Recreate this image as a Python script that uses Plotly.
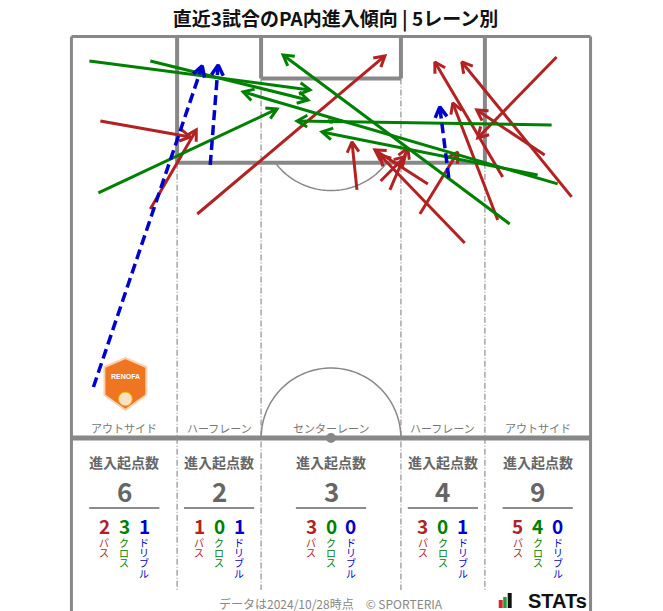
import numpy as np
import plotly.graph_objects as go

# ---------------- data ----------------
lane_names = ["アウトサイド", "ハーフレーン", "センターレーン", "ハーフレーン", "アウトサイド"]
lane_edges = [0.0, 13.84, 24.84, 43.16, 54.16, 68.0]
lane_totals = [6, 2, 3, 4, 9]
lane_pass = [2, 1, 3, 3, 5]
lane_cross = [3, 0, 0, 0, 4]
lane_dribble = [1, 1, 0, 1, 0]
type_labels = ["パス", "クロス", "ドリブル"]

# arrows (metres: x across pitch, y = distance from halfway line)
pass_x0 = [3.79, 10.33, 16.48, 37.40, 41.72, 40.5, 46.69, 45.64, 51.52, 56.49, 65.52, 55.84, 61.99, 63.55]
pass_y0 = [41.45, 29.95, 29.29, 32.43, 32.43, 33.6, 33.22, 29.29, 25.50, 34.13, 31.52, 28.51, 37.01, 49.82]
pass_x1 = [15.56, 16.35, 41.06, 36.75, 44.07, 43.7, 39.75, 50.61, 40.41, 47.60, 51.13, 49.95, 53.09, 53.22]
pass_y1 = [39.36, 40.28, 49.95, 38.71, 37.92, 36.8, 37.66, 37.40, 37.01, 49.17, 49.17, 43.81, 42.89, 39.23]

cross_x0 = [2.35, 10.33, 3.53, 62.90, 61.07, 63.69, 57.41]
cross_y0 = [49.30, 49.30, 32.04, 40.93, 34.39, 33.22, 27.98]
cross_x1 = [31.25, 30.99, 26.94, 29.55, 32.82, 22.49, 27.72]
cross_y1 = [45.51, 44.20, 43.02, 41.45, 40.02, 45.25, 50.08]

drib_x0 = [2.88, 18.18, 49.43]
drib_y0 = [6.67, 35.70, 34.00]
drib_x1 = [17.13, 19.22, 48.25]
drib_y1 = [48.65, 48.78, 43.29]

# ---------------- geometry / styling ----------------
WIN_W, WIN_H = 663, 611
OFF = 8                      # default page margin of the html body
W, H = WIN_W - OFF, WIN_H - OFF
S = 7.647            # px per metre
PX0, PY0 = 71, 438   # window pixel of (x=0, y=0)
HALF = 52.5
PW = 68.0

def px(xp, yp):
    return (xp - PX0) / S, (PY0 - yp) / S

RED, GREEN, BLUE = "#B22222", "#008000", "#0000CD"
LINE = "#888888"
TXT = "#666666"
FONT = "Noto Sans CJK JP"

x_lo, x_hi = -1.5, PW + 1.5
y_hi = HALF + 1.5
ml = PX0 - OFF + x_lo * S
mr = W - (PX0 - OFF + x_hi * S)
mt = PY0 - OFF - y_hi * S
y_lo = y_hi - (H - mt) / S

fig = go.Figure()
shapes = []

def seg(x0, y0, x1, y1, w=3, color=LINE, dash="solid"):
    shapes.append(dict(type="line", x0=x0, y0=y0, x1=x1, y1=y1, xref="x", yref="y",
                       line=dict(color=color, width=w, dash=dash), layer="below"))

DD = "6px,2px,1px,2px"
# outer border
seg(0, HALF, PW, HALF, 3)
seg(0, HALF, 0, y_lo - 1, 3)
seg(PW, HALF, PW, y_lo - 1, 3)
# halfway line
seg(0, 0, PW, 0, 5)
# penalty box
seg(lane_edges[1], HALF, lane_edges[1], HALF - 16.5, 4)
seg(lane_edges[4], HALF, lane_edges[4], HALF - 16.5, 4)
seg(lane_edges[1], HALF - 16.5, lane_edges[4], HALF - 16.5, 4)
# goal area
seg(lane_edges[2], HALF, lane_edges[2], HALF - 5.5, 4)
seg(lane_edges[3], HALF, lane_edges[3], HALF - 5.5, 4)
seg(lane_edges[2], HALF - 5.5, lane_edges[3], HALF - 5.5, 4)
# lane dividers
ybot = px(0, 590)[1]
seg(lane_edges[1], HALF - 16.5, lane_edges[1], ybot, 1.2, "#909090", DD)
seg(lane_edges[4], HALF - 16.5, lane_edges[4], ybot, 1.2, "#909090", DD)
seg(lane_edges[2], HALF - 5.5, lane_edges[2], ybot, 1.2, "#909090", DD)
seg(lane_edges[3], HALF - 5.5, lane_edges[3], ybot, 1.2, "#909090", DD)

def arc_path(cx, cy, r, a0, a1, n=60):
    t = np.linspace(np.deg2rad(a0), np.deg2rad(a1), n)
    pts = [f"{cx + r*np.cos(a):.3f},{cy + r*np.sin(a):.3f}" for a in t]
    return "M " + " L ".join(pts)

# centre circle (upper half) and penalty arc
shapes.append(dict(type="path", path=arc_path(PW/2, 0, 9.15, 0, 180), xref="x", yref="y",
                   line=dict(color=LINE, width=1.5), layer="below"))
ang = np.rad2deg(np.arcsin(5.5 / 9.15))
shapes.append(dict(type="path", path=arc_path(PW/2, HALF - 11, 9.15, -180 + ang, -ang), xref="x", yref="y",
                   line=dict(color=LINE, width=1.5), layer="below"))
# spots
for (cx, cy, r) in [(PW/2, 0, 0.65), (PW/2, HALF - 11, 0.45)]:
    shapes.append(dict(type="circle", x0=cx-r, x1=cx+r, y0=cy-r, y1=cy+r, xref="x", yref="y",
                       fillcolor=LINE, line=dict(width=0), layer="below"))

# underline under totals
lane_cx = [(lane_edges[i] + lane_edges[i+1]) / 2 for i in range(5)]
uy = px(0, 508)[1]
for cx in lane_cx:
    seg(cx - 4.6, uy, cx + 4.6, uy, 1.5, TXT)

# club shield (bottom-left decoration)
sh = [px(125, 358), px(146, 367), px(146, 395), px(125, 410), px(104, 395), px(104, 367)]
shapes.append(dict(type="path", path="M " + " L ".join(f"{a:.3f},{b:.3f}" for a, b in sh) + " Z",
                   xref="x", yref="y", fillcolor="#EE7623", line=dict(color="#FBD3B0", width=2), layer="below"))
cxs, cys = px(125, 399)
shapes.append(dict(type="circle", x0=cxs-0.9, x1=cxs+0.9, y0=cys-0.9, y1=cys+0.9, xref="x", yref="y",
                   fillcolor="#F9E2C4", line=dict(color="#F4B400", width=1), layer="below"))

# STATs logo bars
for (xa, xb, ya, yb, col) in [(499, 503, 600, 608, "#D62828"), (503.5, 507, 597, 608, "#1E9E3A"), (508, 512, 593, 608, "#111111")]:
    (X0, Y0), (X1, Y1) = px(xa, ya), px(xb, yb)
    shapes.append(dict(type="rect", x0=X0, x1=X1, y0=Y1, y1=Y0, xref="x", yref="y",
                       fillcolor=col, line=dict(width=0)))

# ---------------- arrows ----------------
def arrows(x0s, y0s, x1s, y1s, L=1.55, a=np.deg2rad(30)):
    sx, sy, hx, hy = [], [], [], []
    for x0, y0, x1, y1 in zip(x0s, y0s, x1s, y1s):
        sx += [x0, x1, None]
        sy += [y0, y1, None]
        th = np.arctan2(y1 - y0, x1 - x0) + np.pi
        hx += [x1 + L*np.cos(th + a), x1, x1 + L*np.cos(th - a), None]
        hy += [y1 + L*np.sin(th + a), y1, y1 + L*np.sin(th - a), None]
    return sx, sy, hx, hy

for (x0s, y0s, x1s, y1s, col, dash, w) in [
        (pass_x0, pass_y0, pass_x1, pass_y1, RED, "solid", 3),
        (cross_x0, cross_y0, cross_x1, cross_y1, GREEN, "solid", 3),
        (drib_x0, drib_y0, drib_x1, drib_y1, BLUE, "10px,5px", 3.5)]:
    sx, sy, hx, hy = arrows(x0s, y0s, x1s, y1s)
    fig.add_trace(go.Scatter(x=sx, y=sy, mode="lines", line=dict(color=col, width=w, dash=dash),
                             hoverinfo="skip", showlegend=False))
    fig.add_trace(go.Scatter(x=hx, y=hy, mode="lines", line=dict(color=col, width=w),
                             hoverinfo="skip", showlegend=False))

# ---------------- text ----------------
ann = []
def text(x, y, t, size, color, bold=False, xanchor="center", yanchor="middle", family=FONT):
    ann.append(dict(x=x, y=y, xref="x", yref="y", text=f"<b>{t}</b>" if bold else t, showarrow=False,
                    xanchor=xanchor, yanchor=yanchor, font=dict(size=size, color=color, family=family)))

ly = px(0, 428)[1]
hy_ = px(0, 462)[1]
ty = px(0, 491)[1]
ny = px(0, 526)[1]
vy0 = px(0, 543)[1]
vstep = 10 / S
off = 20 / S
for i, cx in enumerate(lane_cx):
    text(cx, ly, lane_names[i], 11, "#777777")
    text(cx, hy_, "進入起点数", 14, TXT, bold=True)
    text(cx, ty, str(lane_totals[i]), 26, TXT, bold=True)
    vals = [lane_pass[i], lane_cross[i], lane_dribble[i]]
    for j, (v, col) in enumerate(zip(vals, [RED, GREEN, BLUE])):
        xx = cx + (j - 1) * off
        text(xx, ny, str(v), 19, col, bold=True)
        for k, ch in enumerate(type_labels[j]):
            text(xx, vy0 - k * vstep, ch, 10, col)

text(PW/2, px(0, 603)[1], "データは2024/10/28時点　© SPORTERIA", 12, "#888888")
text(px(558, 0)[0], px(0, 601)[1], "STATs", 20, "#111111", bold=True, family="Liberation Sans")
text(px(125, 0)[0], px(0, 377)[1], "RENOFA", 7, "white", bold=True, family="Liberation Sans")

fig.update_layout(
    width=W, height=H, autosize=False,
    margin=dict(l=ml, r=mr, t=mt, b=0, pad=0),
    paper_bgcolor="white", plot_bgcolor="white",
    xaxis=dict(range=[x_lo, x_hi], visible=False, fixedrange=True),
    yaxis=dict(range=[y_lo, y_hi], visible=False, fixedrange=True),
    shapes=shapes, annotations=ann,
    title=dict(text="<b>直近3試合のPA内進入傾向 | 5レーン別</b>", x=0.5, xref="container", xanchor="center",
               y=1 - (19 - OFF) / H, yref="container", yanchor="middle",
               font=dict(size=19, color="#111111", family=FONT)),
    showlegend=False,
)

fig.write_html("out.html")
